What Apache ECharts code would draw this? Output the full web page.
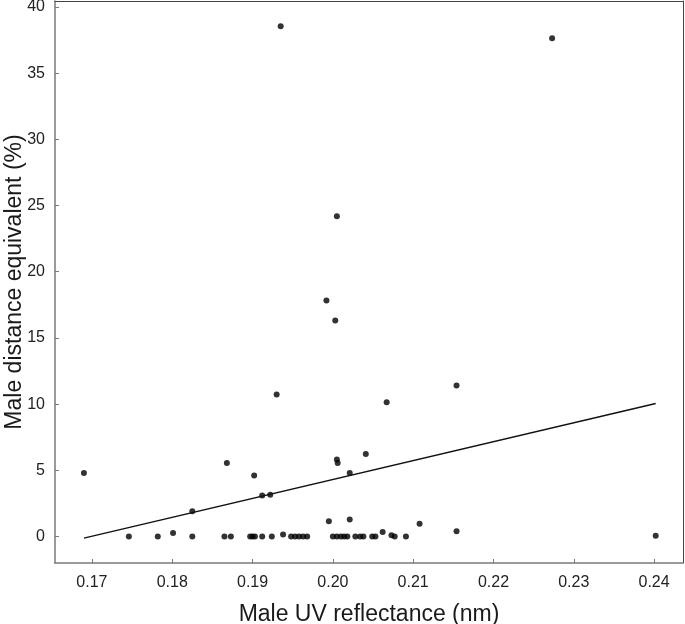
<!DOCTYPE html>
<html>
<head>
<meta charset="utf-8">
<script src="https://cdn.jsdelivr.net/npm/echarts@6/dist/echarts.min.js"></script>
<style>
html,body{margin:0;padding:0;background:#fff;}
#chart{width:685px;height:624px;}
</style>
</head>
<body>
<div id="chart"></div>
<script>
// Male UV reflectance (nm)
var uvX = [0.1690,0.1746,0.1782,0.1801,0.1825,0.1825,0.1865,0.1868,0.1873,0.1897,0.1900,0.1903,0.1902,
  0.1912,0.1912,0.1922,0.1924,0.1930,0.1935,0.1938,0.1948,0.1953,0.1958,0.1963,0.1968,
  0.1992,0.1995,0.2000,0.2003,0.2005,0.2005,0.2005,0.2006,0.2010,0.2014,0.2018,0.2021,0.2021,
  0.2028,0.2034,0.2038,0.2041,0.2049,0.2053,0.2062,0.2067,0.2073,0.2077,0.2091,0.2108,
  0.2154,0.2154,0.2273,0.2402];
// Male distance equivalent (%)
var distY = [4.80,0,0,0.27,1.91,0,0,5.56,0,0,0,0,4.60,
  0,3.10,3.15,0,10.72,38.54,0.15,0,0,0,0,0,
  17.82,1.16,0,16.31,0,24.19,5.82,5.55,0,0,0,1.28,4.80,
  0,0,0,6.24,0,0,0.35,10.15,0.10,0,0,0.97,
  11.40,0.40,37.64,0.05];
// regression line end points
var fitX = [0.1690, 0.2402];
var fitY = [-0.12, 10.05];
var xTicks = [0.17,0.18,0.19,0.20,0.21,0.22,0.23,0.24];
var xTickLabels = ['0.17','0.18','0.19','0.20','0.21','0.22','0.23','0.24'];
var yTicks = [0,5,10,15,20,25,30,35,40];

var pts = uvX.map(function(x,i){return [x, distY[i]];});
var fit = fitX.map(function(x,i){return [x, fitY[i]];});

var font = 'Liberation Sans, Arial, sans-serif';
var chart = echarts.init(document.getElementById('chart'));
chart.setOption({
  animation:false,
  backgroundColor:'#fff',
  grid:{left:55,right:2,top:1,bottom:61,containLabel:false,outerBoundsMode:'none'},
  xAxis:[{
    type:'value', min:0.1654, max:0.2436,
    name:'Male UV reflectance (nm)', nameLocation:'middle', nameGap:40, nameMoveOverlap:false,
    nameTextStyle:{fontFamily:font,fontSize:23,color:'#1a1a1a'},
    axisLine:{show:true,onZero:false,lineStyle:{color:'#7a7a7a',width:1.5}},
    axisTick:{show:true,inside:true,length:4,lineStyle:{color:'#7a7a7a'},
      customValues:xTicks},
    axisLabel:{fontFamily:font,fontSize:16,color:'#222',margin:12,
      customValues:xTicks,
      formatter:function(v){var i=xTicks.findIndex(function(t){return Math.abs(t-v)<1e-9;});return i>=0?xTickLabels[i]:'';}},
    splitLine:{show:false}
  },{
    type:'value', position:'top', min:0.1654, max:0.2436,
    axisLine:{show:true,onZero:false,lineStyle:{color:'#444',width:1}},
    axisTick:{show:false},axisLabel:{show:false},splitLine:{show:false}
  }],
  yAxis:[{
    type:'value', min:-2, max:40.45,
    name:'Male distance equivalent (%)', nameLocation:'middle', nameGap:29, nameMoveOverlap:false,
    nameTextStyle:{fontFamily:font,fontSize:23,color:'#1a1a1a'},
    axisLine:{show:true,onZero:false,lineStyle:{color:'#7a7a7a',width:1.5}},
    axisTick:{show:true,inside:true,length:4,lineStyle:{color:'#7a7a7a'},
      customValues:yTicks},
    axisLabel:{fontFamily:font,fontSize:16,color:'#222',margin:10,
      customValues:yTicks},
    splitLine:{show:false}
  },{
    type:'value', position:'right', min:-2, max:40.45,
    axisLine:{show:true,onZero:false,lineStyle:{color:'#444',width:1}},
    axisTick:{show:false},axisLabel:{show:false},splitLine:{show:false}
  }],
  series:[{
    type:'scatter', data:pts, symbol:'circle', symbolSize:6,
    itemStyle:{color:'#000'}
  },{
    type:'line', data:fit, symbol:'none',
    lineStyle:{color:'#111',width:1.5}
  }]
});
</script>
</body>
</html>
